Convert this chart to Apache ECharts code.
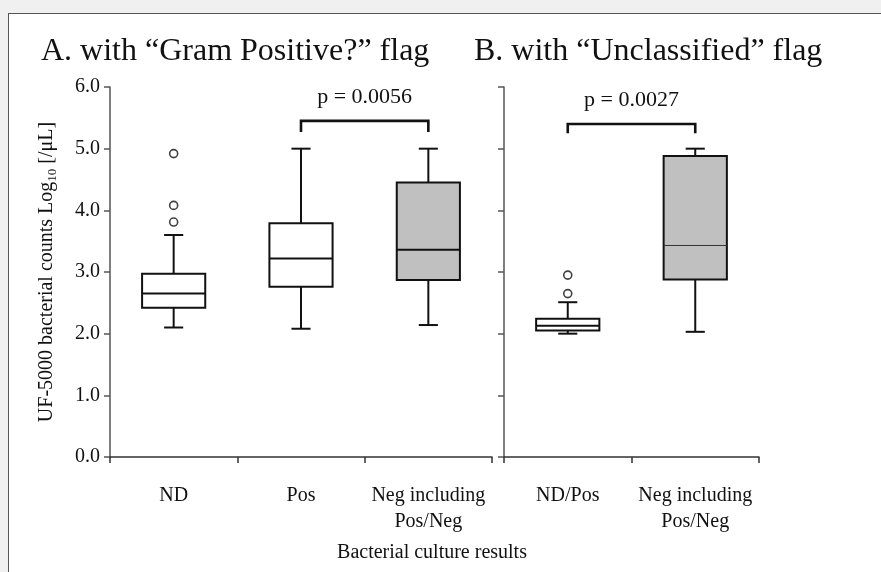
<!DOCTYPE html>
<html>
<head>
    <meta charset="UTF-8"/>
    <title>UF-5000 boxplot</title>
    <script src="https://cdn.jsdelivr.net/npm/echarts@6/dist/echarts.min.js"></script>
    <style>
        body { margin: 0; background: #f0f0f0; }
        #wrap { position: relative; width: 881px; height: 572px; overflow: hidden; }
        #panel { position: absolute; left: 8px; top: 13px; width: 900px; height: 600px; background: #fff; border-left: 1px solid #555; border-top: 1px solid #555; }
        #main { position: absolute; left: 0; top: 0; width: 881px; height: 572px; }
    </style>
</head>
<body>
<div id="wrap">
    <div id="panel"></div>
    <div id="main"></div>
</div>
<script>
    // panel A: "Gram Positive?" flag
    var categoriesA = ['ND', 'Pos', 'Neg including\nPos/Neg'];
    // [low whisker, Q1, median, Q3, high whisker]
    var boxA = [
        [2.10, 2.42, 2.65, 2.97, 3.60],
        [2.08, 2.76, 3.22, 3.79, 5.00],
        [2.14, 2.87, 3.36, 4.45, 5.00]
    ];
    var outliersA = [[0, 4.92], [0, 4.08], [0, 3.81]];
    var pairA = [1, 2];
    var pTextA = 'p = 0.0056';

    // panel B: "Unclassified" flag
    var categoriesB = ['ND/Pos', 'Neg including\nPos/Neg'];
    var boxB = [
        [2.00, 2.05, 2.13, 2.24, 2.51],
        [2.03, 2.88, 3.43, 4.88, 5.00]
    ];
    var outliersB = [[0, 2.95], [0, 2.65]];
    var pairB = [0, 1];
    var pTextB = 'p = 0.0027';

    var yTicks = [0, 1, 2, 3, 4, 5, 6];

    var serif = '"Liberation Serif", "DejaVu Serif", serif';
    var ink = '#111';

    // styling per box (gray = Neg group, thin median in panel B)
    var fillA = ['#fff', '#fff', '#c0c0c0'];
    var fillB = ['#fff', '#c0c0c0'];
    var medA = [2, 2, 2];
    var medB = [2, 1];

    function boxData(arr) {
        return arr.map(function (b, i) { return [i].concat(b); });
    }

    function makeBoxRender(fills, meds) {
        return function (params, api) {
            var x = api.value(0);
            var lo = api.coord([x, api.value(1)]);
            var q1 = api.coord([x, api.value(2)]);
            var md = api.coord([x, api.value(3)]);
            var q3 = api.coord([x, api.value(4)]);
            var hi = api.coord([x, api.value(5)]);
            var band = api.size([1, 0])[0];
            var bw = band * 0.248;
            var cw = band * 0.075;
            var cx = lo[0];
            var st = { stroke: ink, lineWidth: 2, fill: null };
            return {
                type: 'group',
                children: [
                    { type: 'line', shape: { x1: cx, y1: hi[1], x2: cx, y2: q3[1] }, style: st },
                    { type: 'line', shape: { x1: cx, y1: q1[1], x2: cx, y2: lo[1] }, style: st },
                    { type: 'line', shape: { x1: cx - cw, y1: hi[1], x2: cx + cw, y2: hi[1] }, style: st },
                    { type: 'line', shape: { x1: cx - cw, y1: lo[1], x2: cx + cw, y2: lo[1] }, style: st },
                    { type: 'rect', shape: { x: cx - bw, y: q3[1], width: bw * 2, height: q1[1] - q3[1] },
                      style: { fill: fills[params.dataIndex], stroke: ink, lineWidth: 2 } },
                    { type: 'line', shape: { x1: cx - bw, y1: md[1], x2: cx + bw, y2: md[1] },
                      style: { stroke: meds[params.dataIndex] > 1 ? ink : '#333', lineWidth: meds[params.dataIndex] } }
                ]
            };
        };
    }

    // significance bracket: [from, to, top y, leg y, text y]
    function renderBracket(params, api) {
        var a = api.coord([api.value(0), api.value(2)]);
        var b = api.coord([api.value(1), api.value(2)]);
        var legY = api.coord([api.value(0), api.value(3)])[1];
        var txtY = api.coord([api.value(0), api.value(4)])[1];
        return {
            type: 'group',
            children: [
                { type: 'polyline', shape: { points: [[a[0], legY], [a[0], a[1]], [b[0], b[1]], [b[0], legY]] },
                  style: { stroke: ink, lineWidth: 2.6, fill: null } },
                { type: 'text', style: { x: (a[0] + b[0]) / 2, y: txtY, text: params.seriesIndex < 3 ? pTextA : pTextB,
                  textAlign: 'center', textVerticalAlign: 'middle', font: '22px ' + serif, fill: ink } }
            ]
        };
    }

    function yAxis(idx, showLabel) {
        return {
            type: 'value', gridIndex: idx, min: yTicks[0], max: yTicks[yTicks.length - 1], interval: 1,
            splitLine: { show: false },
            axisLine: { show: true, lineStyle: { color: '#555', width: 1.5 } },
            axisTick: { show: true, length: 6, lineStyle: { color: '#555', width: 1.5 } },
            axisLabel: { show: showLabel, margin: 10, fontSize: 20, fontFamily: serif, color: ink,
                formatter: function (v) { return v.toFixed(1); } },
            name: showLabel ? '{a|UF-5000 bacterial counts Log}{s|10}{a| [/μL]}' : '',
            nameLocation: 'middle', nameGap: 51,
            nameTextStyle: {
                fontFamily: serif, color: ink,
                rich: {
                    a: { fontSize: 20, lineHeight: 24, fontFamily: serif, color: ink },
                    s: { fontSize: 13, lineHeight: 13, verticalAlign: 'bottom', fontFamily: serif, color: ink }
                }
            }
        };
    }

    function xAxis(idx, cats) {
        return {
            type: 'category', gridIndex: idx, data: cats,
            axisLine: { lineStyle: { color: '#333', width: 1.5 } },
            axisTick: { show: true, length: 6, lineStyle: { color: '#333', width: 1.5 } },
            axisLabel: { interval: 0, margin: 26, fontSize: 20, lineHeight: 26, fontFamily: serif, color: ink }
        };
    }

    var chart = echarts.init(document.getElementById('main'));
    chart.setOption({
        animation: false,
        title: [
            { text: 'A. with “Gram Positive?” flag', left: 36, top: 28,
              textStyle: { fontSize: 32, lineHeight: 38, fontWeight: 'normal', fontFamily: serif, color: ink } },
            { text: 'B. with “Unclassified” flag', left: 469, top: 28,
              textStyle: { fontSize: 32, lineHeight: 38, fontWeight: 'normal', fontFamily: serif, color: ink } }
        ],
        graphic: [
            { type: 'text', style: { x: 432, y: 553, text: 'Bacterial culture results', textAlign: 'center',
              textVerticalAlign: 'middle', font: '20px ' + serif, fill: ink } }
        ],
        grid: [
            { left: 110, top: 87, width: 382, height: 370 },
            { left: 504, top: 87, width: 255, height: 370 }
        ],
        xAxis: [xAxis(0, categoriesA), xAxis(1, categoriesB)],
        yAxis: [yAxis(0, true), yAxis(1, false)],
        series: [
            { type: 'custom', xAxisIndex: 0, yAxisIndex: 0, renderItem: makeBoxRender(fillA, medA), data: boxData(boxA) },
            { type: 'scatter', xAxisIndex: 0, yAxisIndex: 0, symbol: 'circle', symbolSize: 8,
              itemStyle: { color: '#fff', borderColor: ink, borderWidth: 1.6 }, data: outliersA },
            { type: 'custom', xAxisIndex: 0, yAxisIndex: 0, renderItem: renderBracket, data: [[pairA[0], pairA[1], 5.45, 5.27, 5.84]] },
            { type: 'custom', xAxisIndex: 1, yAxisIndex: 1, renderItem: makeBoxRender(fillB, medB), data: boxData(boxB) },
            { type: 'scatter', xAxisIndex: 1, yAxisIndex: 1, symbol: 'circle', symbolSize: 8,
              itemStyle: { color: '#fff', borderColor: ink, borderWidth: 1.6 }, data: outliersB },
            { type: 'custom', xAxisIndex: 1, yAxisIndex: 1, renderItem: renderBracket, data: [[pairB[0], pairB[1], 5.40, 5.25, 5.79]] }
        ]
    });
</script>
</body>
</html>
